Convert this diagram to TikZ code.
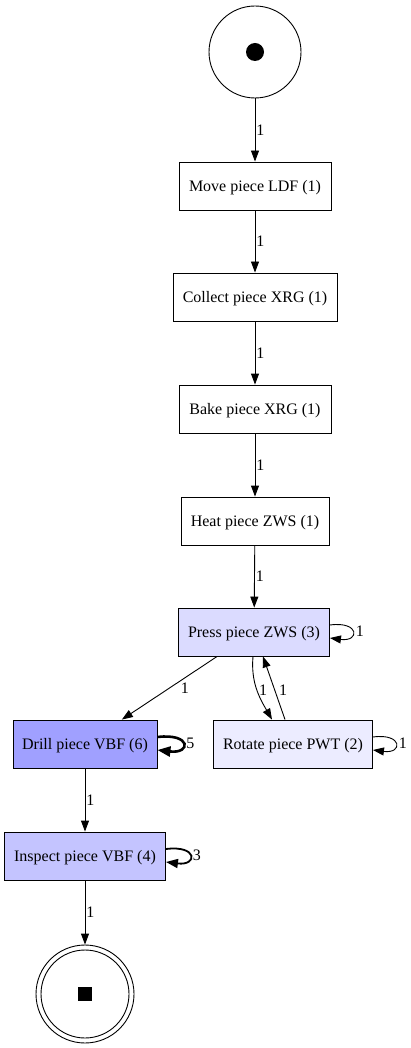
\documentclass[tikz,border=0pt]{standalone}
\usepackage{fontspec}
\setmainfont{Liberation Serif}
\definecolor{pressfill}{RGB}{219,219,255}
\definecolor{rotatefill}{RGB}{236,236,255}
\definecolor{drillfill}{RGB}{160,160,255}
\definecolor{inspectfill}{RGB}{196,196,255}
\usetikzlibrary{arrows.meta,positioning,shapes.geometric}

\begin{document}
\begin{tikzpicture}[x=1pt, y=-1pt, font=\fontsize{16}{18}\selectfont,
    activity/.style={draw, rectangle, line width=0.9pt, minimum height=48pt, inner xsep=8pt, text depth=0pt},
    arr/.style={line width=0.9pt, -{Triangle[length=11pt,width=8pt]}},
    lbl/.style={anchor=west, inner sep=1pt}]
    \useasboundingbox (0,0) rectangle (411,1048);

    % start and end places
    \node[draw, circle, line width=0.9pt, minimum size=92pt] (start) at (255,52) {};
    \fill (start) circle (9pt);
    \node[draw, circle, line width=0.9pt, minimum size=98pt] (end) at (85,994) {};
    \draw[line width=0.9pt] (end.center) circle (44pt);
    \fill ([xshift=-7pt,yshift=-7pt]end.center) rectangle ([xshift=7pt,yshift=7pt]end.center);

    % activities
    \node[activity, minimum width=152pt] (move) at (255,186) {Move piece LDF (1)};
    \node[activity, minimum width=164pt] (collect) at (255,297) {Collect piece XRG (1)};
    \node[activity, minimum width=152pt] (bake) at (255,409) {Bake piece XRG (1)};
    \node[activity, minimum width=148pt] (heat) at (255,521) {Heat piece ZWS (1)};
    \node[activity, fill=pressfill, minimum width=151pt] (press) at (254,632) {Press piece ZWS (3)};
    \node[activity, fill=drillfill, minimum width=144pt] (drill) at (85,744) {Drill piece VBF (6)};
    \node[activity, fill=rotatefill, minimum width=159pt] (rotate) at (293,744) {Rotate piece PWT (2)};
    \node[activity, fill=inspectfill, minimum width=161pt] (inspect) at (85,856) {Inspect piece VBF (4)};

    % main flow
    \draw[arr] (start) -- (move) node[lbl, midway] {1};
    \draw[arr] (move) -- (collect) node[lbl, midway] {1};
    \draw[arr] (collect) -- (bake) node[lbl, midway] {1};
    \draw[arr] (bake) -- (heat) node[lbl, midway] {1};
    \draw[arr] (heat) -- (press) node[lbl, midway] {1};
    \draw[arr] (press) -- (drill) node[midway, right=10pt, inner sep=1pt] {1};
    \draw[arr] ([xshift=-1pt]press.south) to[out=-95, in=120] ([xshift=-21pt]rotate.north);
    \node[inner sep=1pt] (lpr) at (263,690) {1};
    \draw[arr] ([xshift=-8pt]rotate.north) -- ([xshift=9pt]press.south);
    \node[inner sep=1pt] (lrp) at (283,690) {1};
    \draw[arr] (drill) -- (inspect) node[lbl, midway] {1};
    \draw[arr] (inspect) -- (end) node[lbl, midway] {1};

    % self loops
    \draw[arr] ([yshift=7pt]press.east) .. controls +(30pt,4pt) and +(30pt,-4pt) .. ([yshift=-6pt]press.east) node[lbl, pos=0.5, xshift=2pt] {1};
    \draw[arr] ([yshift=7pt]rotate.east) .. controls +(30pt,4pt) and +(30pt,-4pt) .. ([yshift=-6pt]rotate.east) node[lbl, pos=0.5, xshift=2pt] {1};
    \draw[line width=2.6pt, -{Triangle[length=13pt,width=10pt]}] ([yshift=7pt]drill.east) .. controls +(34pt,4pt) and +(34pt,-4pt) .. ([yshift=-6pt]drill.east) node[lbl, pos=0.5, xshift=1pt] {5};
    \draw[line width=1.8pt, -{Triangle[length=12pt,width=9pt]}] ([yshift=7pt]inspect.east) .. controls +(32pt,4pt) and +(32pt,-4pt) .. ([yshift=-6pt]inspect.east) node[lbl, pos=0.5, xshift=1pt] {3};
\end{tikzpicture}
\end{document}
